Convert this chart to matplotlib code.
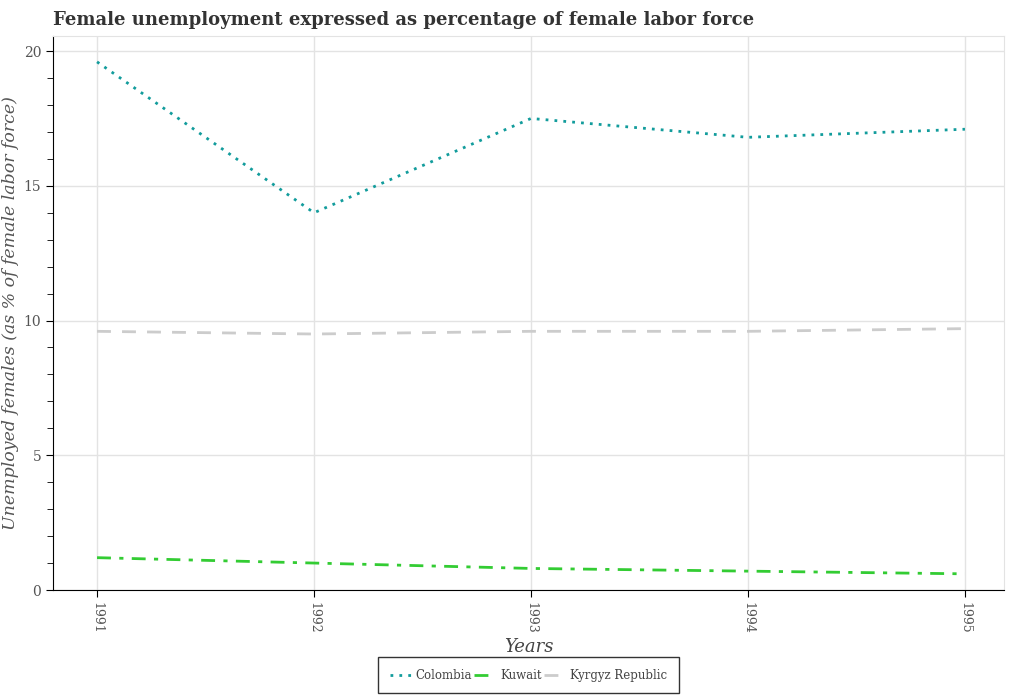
import matplotlib
matplotlib.use("Agg")
import matplotlib.pyplot as plt
from matplotlib.ticker import MultipleLocator

years = [1991, 1992, 1993, 1994, 1995]
colombia = [19.6, 14.0, 17.5, 16.8, 17.1]
kuwait = [1.2, 1.0, 0.8, 0.7, 0.6]
kyrgyz = [9.6, 9.5, 9.6, 9.6, 9.7]

plt.rcParams['font.family'] = ['DejaVu Serif']

fig = plt.figure(figsize=(10.09, 7.0), dpi=100)
ax = fig.add_axes([53/1009, 1-590/700, (1004-53)/1009, (590-36)/700])

ax.plot(years, colombia, linestyle=(0, (1, 2.2)), color='#129c9c', lw=2, label='Colombia')
ax.plot(years, kuwait, linestyle=(0, (5, 3, 1.5, 3)), color='#33cc33', lw=2, label='Kuwait')
ax.plot(years, kyrgyz, linestyle=(0, (5, 4)), color='#cccccc', lw=2, label='Kyrgyz Republic')

ax.set_xlim(1990.797, 1995.18)
ax.set_ylim(0, 20.56)
ax.set_xticks(years)
ax.set_xticklabels([str(y) for y in years], rotation=270, color='#555555', fontsize=9)
ax.yaxis.set_major_locator(MultipleLocator(5))
ax.yaxis.set_minor_locator(MultipleLocator(1))
ax.tick_params(axis='y', labelcolor='#555555', labelsize=10)
ax.tick_params(axis='both', which='major', length=5, color='black')
ax.tick_params(axis='y', which='minor', length=4, color='black')
ax.grid(True, color='#e3e3e3', lw=1)
ax.set_axisbelow(True)
for s in ['top', 'right']:
    ax.spines[s].set_color('#e3e3e3')
for s in ['left', 'bottom']:
    ax.spines[s].set_color('black')

ax.set_xlabel('Years', fontstyle='italic', fontsize=13, color='#444444', labelpad=3)
ax.set_ylabel('Unemployed females (as % of female labor force)', fontstyle='italic',
              fontsize=12.5, color='#555555', labelpad=3)

fig.text(53/1009, 1-20/700, 'Female unemployment expressed as percentage of female labor force',
         fontsize=13, fontweight='bold', color='#333333', va='center', ha='left')

leg = ax.legend(loc='upper center', bbox_to_anchor=(0.5, -0.11), ncol=3, frameon=True,
                fancybox=False, edgecolor='black', fontsize=8.5, handlelength=1.8,
                columnspacing=0.2, handletextpad=0.4, borderpad=1.0)
for t in leg.get_texts():
    t.set_color('#444444')
leg.get_frame().set_linewidth(1)

fig.savefig('out.png', dpi=100)
